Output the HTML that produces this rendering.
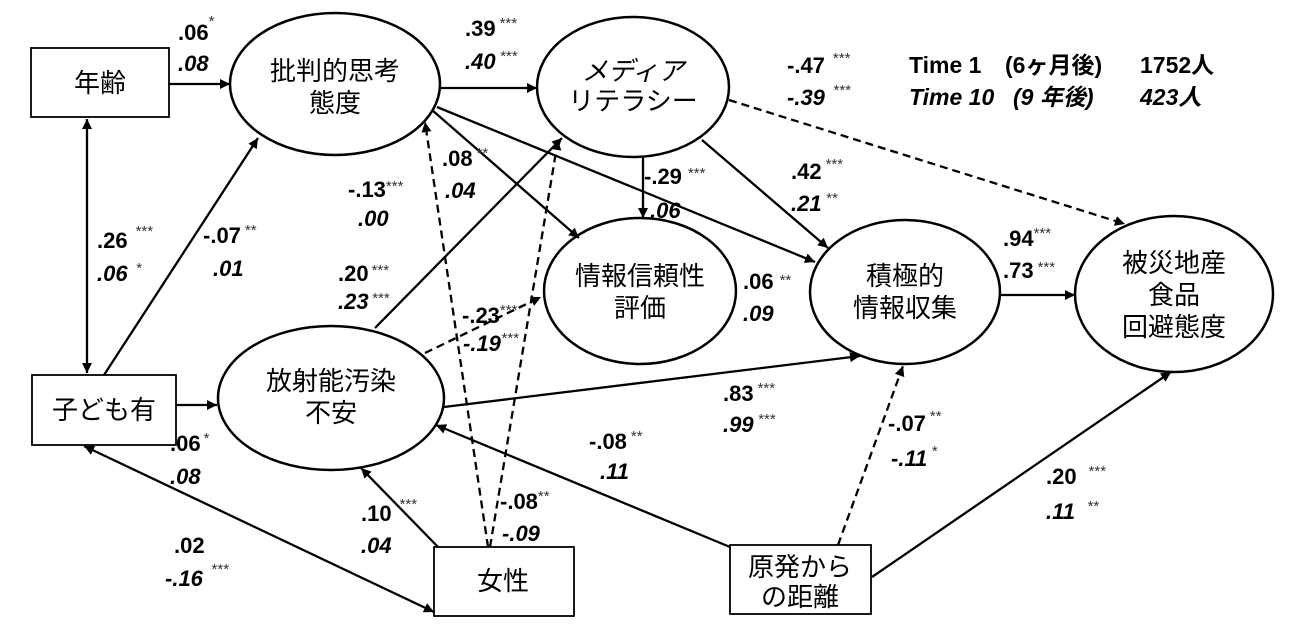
<!DOCTYPE html>
<html><head><meta charset="utf-8"><style>
html,body{margin:0;padding:0;background:#fff;}
svg{display:block;}
.n{font-family:"Liberation Sans","Noto Sans CJK JP",sans-serif;font-size:26px;fill:#000;text-anchor:middle;}
.l{font-family:"Liberation Sans",sans-serif;font-size:22px;font-weight:bold;fill:#000;}
.i{font-style:italic;}
.s{font-size:15px;font-weight:normal;fill:#333;}
.t{font-family:"Liberation Sans","Noto Sans CJK JP",sans-serif;font-size:23px;font-weight:bold;fill:#000;}
</style></head><body>
<svg width="1300" height="628" viewBox="0 0 1300 628" xmlns="http://www.w3.org/2000/svg">
<defs>
<marker id="a" viewBox="0 0 10 10" refX="10" refY="5" markerWidth="12" markerHeight="10" orient="auto-start-reverse" markerUnits="userSpaceOnUse"><path d="M0,0 L10,5 L0,10 z" fill="#000"/></marker>
</defs>
<g fill="none" stroke="#000" stroke-width="2.5">
<rect x="31" y="48" width="138" height="69" stroke-width="1.8"/>
<rect x="32" y="375" width="144" height="70" stroke-width="1.8"/>
<rect x="434" y="547" width="140" height="69" stroke-width="1.8"/>
<rect x="730" y="545" width="141" height="69" stroke-width="1.8"/>
<ellipse cx="335" cy="84" rx="105" ry="71"/>
<ellipse cx="633" cy="87" rx="96" ry="70"/>
<ellipse cx="640" cy="291" rx="96" ry="73"/>
<ellipse cx="905" cy="292" rx="95" ry="72"/>
<ellipse cx="1174" cy="294" rx="99" ry="78"/>
<ellipse cx="331" cy="398" rx="113" ry="72"/>
</g>
<g fill="none" stroke="#000" stroke-width="2.3">
<line x1="169" y1="84" x2="230" y2="84" marker-end="url(#a)"/>
<line x1="87" y1="119" x2="87" y2="373" marker-start="url(#a)" marker-end="url(#a)"/>
<line x1="104" y1="375" x2="258" y2="138" marker-end="url(#a)"/>
<line x1="441" y1="88" x2="537" y2="88" marker-end="url(#a)"/>
<line x1="432" y1="110" x2="579" y2="238" marker-end="url(#a)"/>
<line x1="437" y1="107" x2="815" y2="262" marker-end="url(#a)"/>
<line x1="702" y1="140" x2="828" y2="248" marker-end="url(#a)"/>
<line x1="643" y1="157" x2="643" y2="218" marker-end="url(#a)"/>
<line x1="999" y1="295" x2="1075" y2="295" marker-end="url(#a)"/>
<line x1="375" y1="328" x2="562" y2="138" marker-end="url(#a)"/>
<line x1="176" y1="405" x2="217" y2="405" marker-end="url(#a)"/>
<line x1="438" y1="547" x2="361" y2="468" marker-end="url(#a)"/>
<line x1="84" y1="446" x2="434" y2="612" marker-start="url(#a)" marker-end="url(#a)"/>
<line x1="444" y1="407" x2="860" y2="356" marker-end="url(#a)"/>
<line x1="730" y1="547" x2="436" y2="425" marker-end="url(#a)"/>
<line x1="872" y1="577" x2="1171" y2="372" marker-end="url(#a)"/>
</g>
<g fill="none" stroke="#000" stroke-width="2.3" stroke-dasharray="8,5">
<line x1="729" y1="100" x2="1125" y2="224" marker-end="url(#a)"/>
<line x1="425" y1="353" x2="541" y2="297" marker-end="url(#a)"/>
<line x1="488" y1="547" x2="425" y2="122" marker-end="url(#a)"/>
<line x1="490" y1="547" x2="558" y2="140" marker-end="url(#a)"/>
<line x1="838" y1="545" x2="903" y2="366" marker-end="url(#a)"/>
</g>
<text class="n" x="100" y="92">年齢</text>
<text class="n" x="104" y="419">子ども有</text>
<text class="n" x="503" y="590">女性</text>
<text class="n" x="800" y="576">原発から</text>
<text class="n" x="800" y="606">の距離</text>
<text class="n" x="335" y="80">批判的思考</text>
<text class="n" x="335" y="112">態度</text>
<text class="n" x="633" y="80" font-style="italic">メディア</text>
<text class="n" x="633" y="110">リテラシー</text>
<text class="n" x="640" y="285">情報信頼性</text>
<text class="n" x="640" y="317">評価</text>
<text class="n" x="905" y="285">積極的</text>
<text class="n" x="905" y="317">情報収集</text>
<text class="n" x="1174" y="272">被災地産</text>
<text class="n" x="1174" y="304">食品</text>
<text class="n" x="1174" y="336">回避態度</text>
<text class="n" x="331" y="390">放射能汚染</text>
<text class="n" x="331" y="422">不安</text>
<text class="l" x="178" y="40">.06<tspan class="s" dy="-14">*</tspan></text>
<text class="l i" x="178" y="71">.08</text>
<text class="l" x="465" y="36">.39<tspan class="s" dx="4" dy="-8">***</tspan></text>
<text class="l i" x="465" y="69">.40<tspan class="s" dx="4" dy="-8">***</tspan></text>
<text class="l" x="97" y="248">.26<tspan class="s" dx="8" dy="-12">***</tspan></text>
<text class="l i" x="97" y="281">.06<tspan class="s" dx="8" dy="-8">*</tspan></text>
<text class="l" x="203" y="243">-.07<tspan class="s" dx="4" dy="-8">**</tspan></text>
<text class="l i" x="213" y="276">.01</text>
<text class="l" x="348" y="197">-.13<tspan class="s" dy="-6">***</tspan></text>
<text class="l i" x="358" y="226">.00</text>
<text class="l" x="442" y="166">.08<tspan class="s" dx="4" dy="-8">**</tspan></text>
<text class="l i" x="445" y="198">.04</text>
<text class="l" x="338" y="281">.20<tspan class="s" dx="3" dy="-6">***</tspan></text>
<text class="l i" x="338" y="309">.23<tspan class="s" dx="3" dy="-6">***</tspan></text>
<text class="l" x="462" y="323">-.23<tspan class="s" dy="-8">***</tspan></text>
<text class="l i" x="463" y="351">-.19<tspan class="s" dy="-8">***</tspan></text>
<text class="l" x="644" y="184">-.29<tspan class="s" dx="6" dy="-6">***</tspan></text>
<text class="l i" x="650" y="218">.06</text>
<text class="l" x="791" y="179">.42<tspan class="s" dx="4" dy="-10">***</tspan></text>
<text class="l i" x="791" y="211">.21<tspan class="s" dx="4" dy="-8">**</tspan></text>
<text class="l" x="787" y="73">-.47<tspan class="s" dx="8" dy="-10">***</tspan></text>
<text class="l i" x="787" y="105">-.39<tspan class="s" dx="8" dy="-10">***</tspan></text>
<text class="t" x="909" y="73">Time 1</text>
<text class="t" x="1005" y="73">(6ヶ月後)</text>
<text class="t" x="1140" y="73">1752人</text>
<text class="t i" x="909" y="105">Time 10</text>
<text class="t i" x="1013" y="105">(9 年後)</text>
<text class="t i" x="1140" y="105">423人</text>
<text class="l" x="1003" y="246">.94<tspan class="s" dy="-8">***</tspan></text>
<text class="l" x="1003" y="278">.73<tspan class="s" dx="4" dy="-6">***</tspan></text>
<text class="l" x="743" y="289">.06<tspan class="s" dx="6" dy="-4">**</tspan></text>
<text class="l i" x="743" y="321">.09</text>
<text class="l" x="723" y="401">.83<tspan class="s" dx="4" dy="-8">***</tspan></text>
<text class="l i" x="723" y="432">.99<tspan class="s" dx="4" dy="-8">***</tspan></text>
<text class="l" x="589" y="449">-.08<tspan class="s" dx="4" dy="-8">**</tspan></text>
<text class="l i" x="600" y="479">.11</text>
<text class="l" x="888" y="431">-.07<tspan class="s" dx="4" dy="-10">**</tspan></text>
<text class="l i" x="891" y="466">-.11<tspan class="s" dx="4" dy="-10">*</tspan></text>
<text class="l" x="1046" y="484">.20<tspan class="s" dx="12" dy="-8">***</tspan></text>
<text class="l i" x="1046" y="519">.11<tspan class="s" dx="12" dy="-8">**</tspan></text>
<text class="l" x="170" y="451">.06<tspan class="s" dx="3" dy="-8">*</tspan></text>
<text class="l i" x="170" y="484">.08</text>
<text class="l" x="361" y="521">.10<tspan class="s" dx="8" dy="-12">***</tspan></text>
<text class="l i" x="361" y="553">.04</text>
<text class="l" x="500" y="509">-.08<tspan class="s" dy="-8">**</tspan></text>
<text class="l i" x="502" y="541">-.09</text>
<text class="l" x="174" y="553">.02</text>
<text class="l i" x="165" y="586">-.16<tspan class="s" dx="8" dy="-12">***</tspan></text>
</svg>
</body></html>
